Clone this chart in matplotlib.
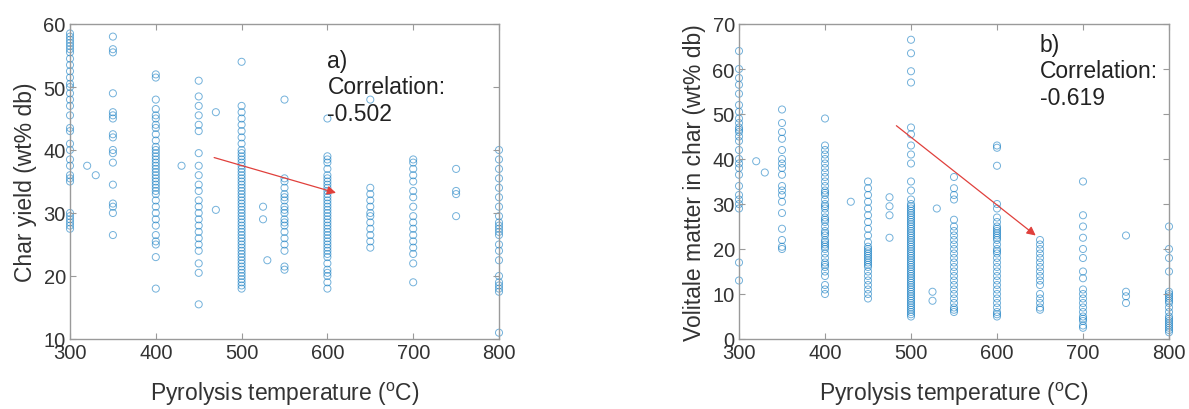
import matplotlib
matplotlib.use("Agg")
import matplotlib.pyplot as plt

plt.rcParams['font.family'] = ['Liberation Sans', 'DejaVu Sans']
plt.rcParams['mathtext.fontset'] = 'custom'
plt.rcParams['mathtext.rm'] = 'Liberation Sans'

# a) char yield (wt% db) per pyrolysis temperature
yield_300 = [58.5, 58, 57.5, 57, 56.5, 56, 55.5, 54.5, 53.5, 52.5, 51.5, 50.5, 50, 49, 48, 47,
             45.5, 43.5, 43, 41, 40, 38.5, 37.5, 36, 35.5, 35, 30, 29.5, 29, 28.5, 28, 27.5]
yield_350 = [58, 56, 55.5, 49, 46, 45.5, 45, 42.5, 42, 40, 39.5, 38, 34.5, 31.5, 31, 30, 26.5]
yield_400 = [52, 51.5, 48, 46.5, 45.5, 45, 44, 43.5, 42.5, 41.5, 40.5, 40, 39.5, 39, 38.5, 38,
             37.5, 37, 36.5, 36, 35.5, 35, 34.5, 34, 33.5, 33, 32, 31, 30, 29, 28, 26.5, 25.5,
             25, 23, 18]
yield_450 = [51, 48.5, 47, 45.5, 44, 43, 39.5, 37.5, 36, 34.5, 33.5, 32, 31, 30, 29, 28, 27,
             26, 25, 24, 22, 20.5, 15.5]
yield_500 = [54, 47, 46, 45, 44, 43, 42, 41, 40, 39.5, 39, 38.5, 38, 37.5, 37, 36.5, 36, 35.5,
             35, 34.5, 34, 33.5, 33, 32.5, 32, 31.5, 31, 30.5, 30, 29.5, 29, 28.5, 28, 27.5,
             27, 26.5, 26, 25.5, 25, 24.5, 24, 23.5, 23, 22.5, 22, 21.5, 21, 20.5, 20, 19.5,
             19, 18.5, 18]
yield_550 = [48, 35.5, 35, 34, 33, 32.5, 32, 31, 30.5, 30, 29, 28.5, 28, 27, 26, 25, 24, 21.5, 21]
yield_600 = [45, 39, 38.5, 38, 37, 36, 35.5, 35, 34.5, 34, 33.5, 33, 32.5, 32, 31.5, 31, 30.5,
             30, 29.5, 29, 28.5, 28, 27.5, 27, 26.5, 26, 25.5, 25, 24.5, 24, 23.5, 23, 22, 21,
             20.5, 20, 19, 18]
yield_650 = [48, 34, 33, 32, 31, 30, 29.5, 28.5, 27.5, 26.5, 25.5, 24.5]
yield_700 = [38.5, 38, 37, 36, 35, 33.5, 32.5, 31, 29.5, 28.5, 27.5, 26.5, 25.5, 24.5, 23.5, 22, 19]
yield_750 = [37, 33.5, 33, 29.5]
yield_800 = [40, 38.5, 37, 35.5, 34, 32.5, 31, 29.5, 28.5, 28, 27.5, 27, 26.5, 25, 24, 22.5,
             20, 19, 18.5, 18, 17.5, 11]
yield_other_t = [320, 330, 430, 470, 470, 525, 525, 530]
yield_other = [37.5, 36, 37.5, 46, 30.5, 31, 29, 22.5]

# b) volatile matter in char (wt% db)
vm_300 = [64, 60, 58, 56.5, 54.5, 52, 50.5, 49, 48, 47, 46.5, 46, 45, 44, 42, 40, 39, 38, 36.5,
          34, 32, 31, 30, 29, 17, 13]
vm_350 = [51, 48, 46, 44.5, 42, 40, 39, 38, 36.5, 34, 33, 32, 30.5, 28, 24.5, 22, 20.5, 20]
vm_400 = [49, 43, 42, 41, 40, 39, 38, 37, 36, 35, 34, 33, 32.5, 32, 31, 30, 29.5, 29, 28, 27,
          26.5, 26, 25, 24, 23.5, 23, 22, 21.5, 21, 20.5, 20, 19, 18, 17, 16.5, 16, 15, 14, 12,
          11, 10]
vm_450 = [35, 33.5, 32, 30.5, 29, 27.5, 26, 24.5, 23, 21.5, 20.5, 20, 19.5, 19, 18.5, 18, 17.5,
          17, 16.5, 16, 15, 14, 13, 12, 11, 10, 9]
vm_500 = [66.5, 63.5, 59.5, 57, 47, 45.5, 43, 41, 39, 35, 33, 31, 30, 29.5, 29, 28.5, 28, 27.5,
          27, 26.5, 26, 25.5, 25, 24.5, 24, 23.5, 23, 22.5, 22, 21.5, 21, 20.5, 20, 19.5, 19,
          18.5, 18, 17.5, 17, 16.5, 16, 15.5, 15, 14.5, 14, 13.5, 13, 12.5, 12, 11.5, 11, 10.5,
          10, 9.5, 9, 8.5, 8, 7.5, 7, 6.5, 6, 5.5, 5]
vm_550 = [36, 33.5, 32, 31, 26.5, 25, 24, 23, 22, 21, 20, 19, 18, 17, 16, 15, 14, 13, 12, 11,
          10, 9, 8, 7, 6.5, 6]
vm_600 = [43, 42.5, 38.5, 30, 29, 27, 26, 25, 24.5, 24, 23.5, 23, 22.5, 22, 21, 20, 19.5, 19,
          18, 17, 16, 15, 14, 13, 12, 11, 10, 9, 8, 7, 6, 5.5, 5]
vm_650 = [22, 21, 20, 19, 18, 17, 16, 15, 14, 13, 12, 10, 9, 8, 7, 6.5]
vm_700 = [35, 27.5, 25, 22.5, 20, 18, 15, 13.5, 11, 10, 9, 8, 7, 6, 5, 4.5, 4, 3, 2.5]
vm_750 = [23, 10.5, 9.5, 8]
vm_800 = [25, 20, 18, 15, 10.5, 10, 9.5, 9, 8.5, 8, 7, 6, 5, 4.5, 4, 3.5, 3, 2.5, 2, 1.5]
vm_other_t = [320, 330, 430, 475, 475, 475, 475, 525, 525, 530]
vm_other = [39.5, 37, 30.5, 31.5, 29.5, 27.5, 22.5, 10.5, 8.5, 29]

temps = [300, 350, 400, 450, 500, 550, 600, 650, 700, 750, 800]
yield_groups = [yield_300, yield_350, yield_400, yield_450, yield_500, yield_550,
                yield_600, yield_650, yield_700, yield_750, yield_800]
vm_groups = [vm_300, vm_350, vm_400, vm_450, vm_500, vm_550,
             vm_600, vm_650, vm_700, vm_750, vm_800]

corr_a = -0.502
corr_b = -0.619


def flatten(groups, other_t, other):
    xs, ys = [], []
    for t, g in zip(temps, groups):
        xs += [t] * len(g)
        ys += g
    return xs + other_t, ys + other


def style_axes(ax, ylim, yticks, ylabel):
    ax.set_xlim(300, 800)
    ax.set_ylim(*ylim)
    ax.set_xticks([300, 400, 500, 600, 700, 800])
    ax.set_yticks(yticks)
    ax.tick_params(direction='in', length=4, width=0.8, top=True, right=True,
                   labelsize=14.5, labelcolor='#333333', color='#9a9a9a', pad=3)
    for s in ax.spines.values():
        s.set_color('#9a9a9a')
        s.set_linewidth(1.0)
    ax.set_xlabel(r'Pyrolysis temperature ($^{\mathrm{o}}$C)', fontsize=16.5,
                  color='#333333', labelpad=13)
    ax.set_ylabel(ylabel, fontsize=16.5, color='#333333', labelpad=5)


fig = plt.figure(figsize=(11.89, 4.10), dpi=100)
ax1 = fig.add_axes([70 / 1189, 70 / 410, 429 / 1189, 315 / 410])
ax2 = fig.add_axes([739 / 1189, 70 / 410, 430 / 1189, 315 / 410])

blue = '#0072BD'
x, y = flatten(yield_groups, yield_other_t, yield_other)
ax1.scatter(x, y, s=26, facecolors='none', edgecolors=blue, linewidths=0.7, alpha=0.55, clip_on=False)
x, y = flatten(vm_groups, vm_other_t, vm_other)
ax2.scatter(x, y, s=26, facecolors='none', edgecolors=blue, linewidths=0.7, alpha=0.55, clip_on=False)

style_axes(ax1, (10, 60), [10, 20, 30, 40, 50, 60], 'Char yield (wt% db)')
style_axes(ax2, (0, 70), [0, 10, 20, 30, 40, 50, 60, 70], 'Volitale matter in char (wt% db)')

arrow = dict(arrowstyle='-|>', color='#e0403c', lw=0.9, mutation_scale=13, shrinkA=0, shrinkB=0)
ax1.annotate('', xy=(610, 33.2), xytext=(468, 38.8), arrowprops=arrow)
ax2.annotate('', xy=(645, 23), xytext=(483, 47.4), arrowprops=arrow)

ax1.text(600, 50, 'a)\nCorrelation:\n%.3f' % corr_a, fontsize=16.5, color='#222222',
         ha='left', va='center', linespacing=1.2)
ax2.text(650, 59.6, 'b)\nCorrelation:\n%.3f' % corr_b, fontsize=16.5, color='#222222',
         ha='left', va='center', linespacing=1.2)

fig.savefig('out.png', dpi=100)
